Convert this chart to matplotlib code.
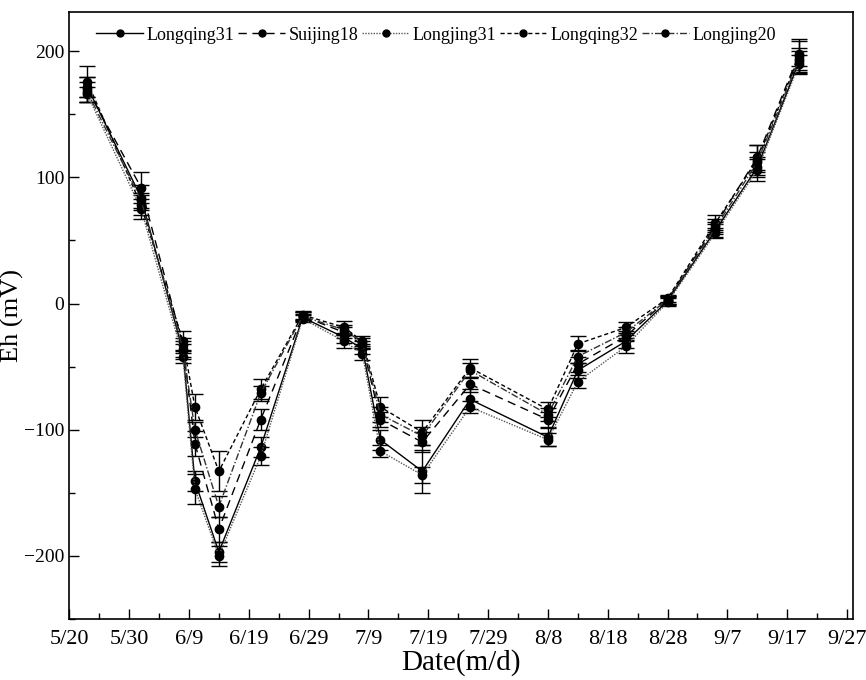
import numpy as np
import pandas as pd
import matplotlib
matplotlib.use("Agg")
import matplotlib.pyplot as plt
from matplotlib.ticker import MultipleLocator
from matplotlib.lines import Line2D

plt.rcParams['font.family'] = ['Liberation Serif', 'DejaVu Serif']

# sampling dates (m/d)
dates = ["5/23", "6/1", "6/8", "6/10", "6/14", "6/21", "6/28", "7/5", "7/8", "7/11",
         "7/18", "7/26", "8/8", "8/13", "8/21", "8/28", "9/5", "9/12", "9/19"]

longqing31 = [172, 84, -38, -141, -197, -114, -11, -27, -36, -108,
              -133, -76, -106, -53, -30, 2, 58, 108, 192]
suijing18 = [170, 92, -33, -111, -179, -92, -10, -23, -33, -92,
             -110, -64, -92, -48, -26, 3, 62, 116, 198]
longjing31 = [166, 75, -42, -147, -200, -121, -12, -30, -40, -117,
              -136, -82, -108, -62, -34, 1, 56, 106, 190]
longqing32 = [176, 78, -30, -82, -133, -68, -9, -19, -30, -82,
              -102, -51, -84, -32, -19, 4, 64, 114, 196]
longjing20 = [168, 82, -36, -100, -161, -71, -10, -21, -31, -88,
              -105, -53, -88, -42, -23, 3, 60, 112, 194]

err_lq31 = [8, 10, 6, 8, 8, 8, 3, 4, 4, 8, 17, 8, 7, 6, 5, 3, 5, 8, 8]
err_sj18 = [10, 12, 6, 10, 10, 8, 3, 4, 3, 6, 8, 6, 6, 6, 4, 3, 5, 10, 10]
err_lj31 = [6, 8, 5, 12, 8, 7, 3, 5, 5, 5, 6, 5, 5, 5, 5, 3, 4, 9, 7]
err_lq32 = [12, 8, 8, 10, 16, 8, 3, 5, 4, 8, 10, 7, 6, 6, 4, 3, 6, 12, 14]
err_lj20 = [8, 6, 6, 6, 8, 6, 3, 4, 4, 6, 7, 6, 5, 5, 4, 3, 5, 8, 9]

names = ["Longqing31", "Suijing18", "Longjing31", "Longqing32", "Longjing20"]
series = [longqing31, suijing18, longjing31, longqing32, longjing20]
errors = [err_lq31, err_sj18, err_lj31, err_lq32, err_lj20]
styles = ['-', (0, (6, 4)), (0, (1, 1)), (0, (3, 2)), (0, (5, 1.5, 1, 1.5))]
colors = ['black', 'black', '#555555', 'black', '#333333']

x = pd.to_datetime(["2020/" + d for d in dates])

fig = plt.figure(figsize=(8.66, 6.8), dpi=100)
ax = fig.add_axes([0.08, 0.09, 0.905, 0.892])

handles = []
for y, e, name, ls, c in zip(series, errors, names, styles, colors):
    ax.errorbar(x, y, yerr=e, color=c, ls=ls, lw=1.0, marker='o', ms=6,
                mfc='black', mec='black', ecolor='black', elinewidth=1.0,
                capsize=6, capthick=1.0)
    handles.append(Line2D([], [], color=c, ls=ls, lw=1.0, marker='o', ms=5,
                          mfc='black', mec='black', label=name))

ticks = pd.date_range("2020-05-20", "2020-09-27", freq="10D")
ax.set_xticks(ticks)
ax.set_xticklabels([f"{t.month}/{t.day}" for t in ticks])
ax.set_xticks(pd.date_range("2020-05-25", "2020-09-25", freq="10D"), minor=True)
ax.set_xlim(pd.Timestamp("2020-05-20"), pd.Timestamp("2020-09-28"))
ax.set_ylim(-250, 231)
ax.yaxis.set_major_locator(MultipleLocator(100))
ax.yaxis.set_minor_locator(MultipleLocator(50))
ax.tick_params(which='both', direction='in', width=1)
ax.tick_params(axis='y', labelsize=14)
ax.tick_params(axis='x', labelsize=16, pad=8)
ax.tick_params(which='major', length=7)
ax.tick_params(which='minor', length=4)
for s in ax.spines.values():
    s.set_linewidth(1.2)

ax.set_xlabel("Date(m/d)", fontsize=21, labelpad=0)
ax.set_ylabel("Eh (mV)", fontsize=19)
ax.yaxis.set_label_coords(-0.058, 0.5)

ax.legend(handles=handles, loc='upper center', ncol=5, frameon=False, fontsize=13,
          handlelength=2.6, handletextpad=0.2, columnspacing=0.2,
          borderaxespad=0.4, bbox_to_anchor=(0.468, 1.0))

fig.savefig("out.png", dpi=100)
